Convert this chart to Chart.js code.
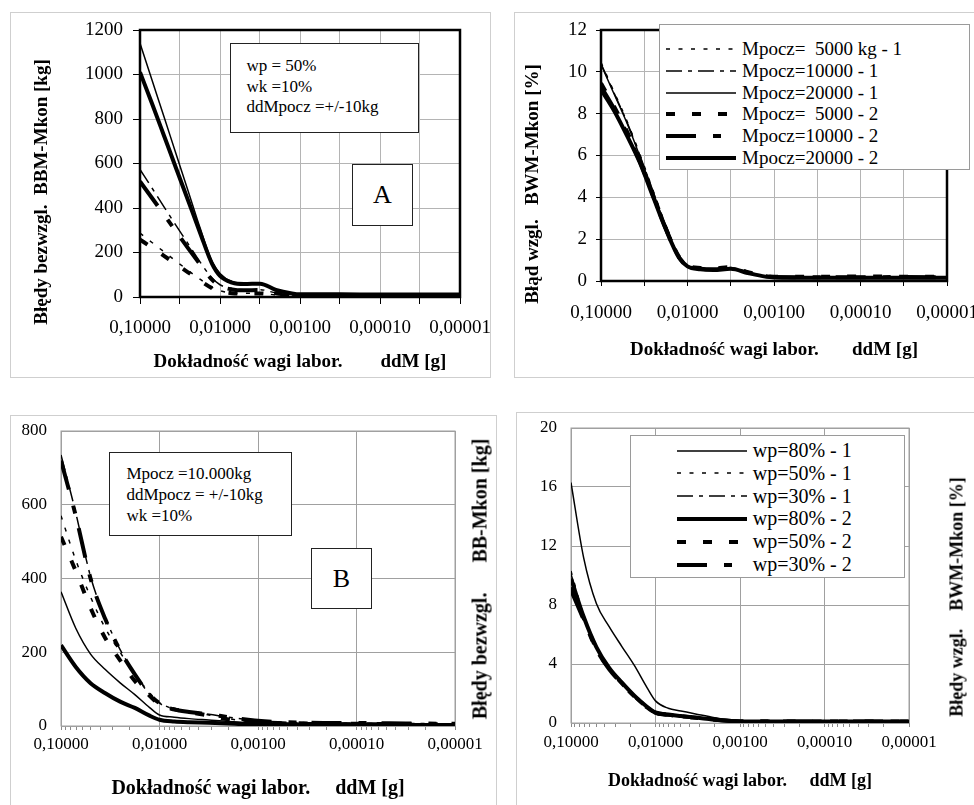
<!DOCTYPE html>
<html><head><meta charset="utf-8">
<script src="https://cdn.jsdelivr.net/npm/chart.js@4.4.1/dist/chart.umd.min.js"></script>
<style>
html,body{margin:0;padding:0;background:#fff;}
body{width:974px;height:805px;position:relative;overflow:hidden;font-family:"Liberation Serif","Times New Roman",serif;color:#000;}
.panel{position:absolute;box-sizing:border-box;border:1.5px solid #cfcfcf;}
canvas{position:absolute;}
.note{position:absolute;box-sizing:border-box;border:1.5px solid #222;background:#fff;white-space:pre;}
.note .ln{display:block;}
.big{display:flex;align-items:center;justify-content:center;font-size:26px;}
.legend{position:absolute;box-sizing:border-box;border:1px solid #9a9a9a;background:#fff;}
.legrow{position:absolute;display:flex;align-items:center;white-space:pre;height:24px;}
.rtitle{position:absolute;font-weight:bold;white-space:pre;transform:translate(-50%,-50%) rotate(-90deg);}
</style></head><body>
<div class="panel" style="left:10px;top:12px;width:481px;height:366px"></div>
<div class="panel" style="left:514px;top:12px;width:470px;height:366px"></div>
<div class="panel" style="left:10px;top:415px;width:487px;height:400px"></div>
<div class="panel" style="left:516px;top:412px;width:470px;height:400px"></div>
<canvas id="cA" width="500" height="380" style="left:0;top:0"></canvas>
<canvas id="cC" width="484" height="380" style="left:490px;top:0"></canvas>
<canvas id="cB" width="490" height="420" style="left:0;top:385px"></canvas>
<canvas id="cD" width="484" height="420" style="left:490px;top:385px"></canvas>

<div class="note" style="left:230px;top:43px;width:189px;height:90px;padding:12px 0 0 15.5px;font-size:17px;line-height:20.5px"><span class="ln">wp = 50%</span><span class="ln">wk =10%</span><span class="ln">ddMpocz =+/-10kg</span></div>
<div class="note big" style="left:352px;top:164px;width:61px;height:62px">A</div>
<div class="note" style="left:109px;top:452px;width:183px;height:84px;padding:10px 0 0 16.5px;font-size:17px;line-height:21px"><span class="ln">Mpocz =10.000kg</span><span class="ln">ddMpocz = +/-10kg</span><span class="ln">wk =10%</span></div>
<div class="note big" style="left:311px;top:548px;width:61px;height:61px">B</div>

<div id="legC" class="legend" style="left:659px;top:24px;width:311px;height:146px"></div>
<div id="legD" class="legend" style="left:630px;top:435px;width:275px;height:143px"></div>

<div class="rtitle" style="left:480px;top:579px;font-size:20px">Błędy bezwzgl.      BB-Mkon [kg]</div>
<div class="rtitle" style="left:957px;top:597px;font-size:18px">Błędy wzgl.    BWM-Mkon [%]</div>

<script>
// ---------- data ----------
const ddM = [0.1, 0.0708, 0.0501, 0.0355, 0.0251, 0.0178, 0.0126, 0.01, 0.00708, 0.00501, 0.00316, 0.002, 0.00126, 0.001, 0.000316, 0.0001, 0.0000316, 0.00001];

const xDecades = [0.1, 0.01, 0.001, 0.0001, 0.00001];
const xTickLabels = ['0,10000', '0,01000', '0,00100', '0,00010', '0,00001'];
const xTicksHalf = [0.1, 0.031623, 0.01, 0.0031623, 0.001, 0.00031623, 0.0001, 0.000031623, 0.00001];

const labelsAC = ['Mpocz=  5000 kg - 1', 'Mpocz=10000 - 1', 'Mpocz=20000 - 1', 'Mpocz=  5000 - 2', 'Mpocz=10000 - 2', 'Mpocz=20000 - 2'];
const labelsBD = ['wp=80% - 1', 'wp=50% - 1', 'wp=30% - 1', 'wp=80% - 2', 'wp=50% - 2', 'wp=30% - 2'];

// Panel A (kg)
const a5000_1  = [287, 245, 203, 161, 120, 80, 43, 28, 19, 17, 17, 9, 5, 4, 4, 3, 3, 3];
const a10000_1 = [573, 490, 405, 322, 240, 158, 85, 55, 37, 33, 33, 18, 9, 7, 6, 6, 6, 6];
const a20000_1 = [1140, 975, 810, 644, 478, 312, 160, 106, 69, 62, 62, 32, 16, 12, 12, 12, 12, 12];
const a5000_2  = [258, 222, 185, 148, 111, 74, 40, 26, 17, 15, 16, 9, 5, 4, 5, 4, 5, 4];
const a10000_2 = [519, 445, 370, 295, 220, 148, 78, 50, 34, 30, 31, 17, 9, 7, 8, 7, 8, 7];
const a20000_2 = [1010, 870, 725, 580, 435, 290, 150, 95, 65, 58, 60, 32, 16, 12, 12, 11, 11, 11];

// Panel C (%)
const c5000_1  = [10.45, 9.05, 7.65, 6.05, 4.35, 2.65, 1.25, 0.78, 0.62, 0.58, 0.64, 0.42, 0.24, 0.18, 0.14, 0.15, 0.14, 0.15];
const c10000_1 = [10.4, 9.0, 7.6, 6.0, 4.3, 2.6, 1.2, 0.75, 0.6, 0.56, 0.62, 0.4, 0.22, 0.17, 0.13, 0.13, 0.13, 0.13];
const c20000_1 = [10.35, 8.95, 7.55, 5.95, 4.25, 2.55, 1.18, 0.73, 0.58, 0.55, 0.6, 0.39, 0.21, 0.16, 0.12, 0.12, 0.12, 0.12];
const c5000_2  = [9.45, 8.35, 7.15, 5.75, 4.15, 2.52, 1.17, 0.74, 0.62, 0.6, 0.66, 0.42, 0.25, 0.2, 0.2, 0.22, 0.2, 0.2];
const c10000_2 = [9.3, 8.25, 7.05, 5.7, 4.1, 2.5, 1.15, 0.72, 0.59, 0.56, 0.62, 0.4, 0.23, 0.19, 0.18, 0.18, 0.19, 0.18];
const c20000_2 = [9.15, 8.15, 6.95, 5.65, 4.05, 2.47, 1.13, 0.7, 0.56, 0.53, 0.58, 0.38, 0.21, 0.17, 0.15, 0.15, 0.15, 0.15];

// Panel B (kg)
const b80_1 = [364, 265, 195, 153, 117, 85, 50, 30, 24, 20, 16, 12, 9, 8, 6, 5, 5, 4];
const b50_1 = [570, 450, 350, 265, 200, 140, 90, 62, 45, 38, 30, 20, 12, 10, 8, 7, 6, 5];
const b30_1 = [735, 578, 405, 293, 207, 142, 86, 63, 46, 39, 32, 24, 17, 14, 9, 8, 7, 6];
const b80_2 = [219, 160, 116, 89, 66, 49, 28, 17, 12, 10, 9, 7, 5, 5, 4, 4, 3, 3];
const b50_2 = [513, 420, 320, 238, 178, 122, 82, 58, 45, 38, 28, 18, 11, 9, 7, 6, 5, 5];
const b30_2 = [720, 570, 400, 290, 205, 140, 85, 62, 45, 38, 32, 24, 17, 14, 9, 8, 7, 6];

// Panel D (%)
const d80_1 = [16.3, 11.2, 8.1, 6.55, 5.2, 3.9, 2.4, 1.5, 1.0, 0.82, 0.58, 0.36, 0.2, 0.16, 0.13, 0.12, 0.12, 0.12];
const d50_1 = [10.3, 7.3, 5.2, 3.8, 2.8, 1.9, 1.15, 0.75, 0.6, 0.5, 0.37, 0.25, 0.14, 0.12, 0.11, 0.11, 0.11, 0.11];
const d30_1 = [10.1, 7.25, 5.15, 3.75, 2.75, 1.88, 1.12, 0.74, 0.59, 0.49, 0.36, 0.24, 0.13, 0.12, 0.11, 0.11, 0.1, 0.1];
const d80_2 = [9.8, 7.2, 5.15, 3.75, 2.75, 1.85, 1.1, 0.72, 0.57, 0.47, 0.35, 0.23, 0.13, 0.11, 0.1, 0.1, 0.1, 0.1];
const d50_2 = [9.2, 7.1, 5.05, 3.7, 2.7, 1.83, 1.08, 0.7, 0.56, 0.46, 0.35, 0.23, 0.13, 0.11, 0.1, 0.1, 0.1, 0.1];
const d30_2 = [9.0, 7.0, 5.0, 3.65, 2.68, 1.8, 1.06, 0.69, 0.55, 0.45, 0.34, 0.22, 0.13, 0.11, 0.1, 0.1, 0.1, 0.1];

// ---------- styles ----------
const DOT = [4, 8.5], DASHDOT = [16, 6, 4, 6], DASH = [9, 17], LONGDASH = [30, 17, 8, 15];
const stylesAC = [{dash: DOT, w: 1.5}, {dash: DASHDOT, w: 1.5}, {dash: [], w: 1.5}, {dash: DASH, w: 4}, {dash: LONGDASH, w: 4}, {dash: [], w: 4}];
const stylesBD = [{dash: [], w: 1.5}, {dash: DOT, w: 1.5}, {dash: DASHDOT, w: 1.5}, {dash: [], w: 4}, {dash: DASH, w: 4}, {dash: LONGDASH, w: 4}];

Chart.defaults.font.family = '"Liberation Serif", "Times New Roman", serif';
Chart.defaults.color = '#000';

const framePlugin = {
  id: 'frame',
  beforeDatasetsDraw(chart, args, opts) { if (!opts.over) draw(chart, opts); },
  afterDatasetsDraw(chart, args, opts) { if (opts.over) draw(chart, opts); }
};
function draw(chart, opts) {
  const {ctx, chartArea: a} = chart;
  ctx.save();
  ctx.strokeStyle = opts.color; ctx.lineWidth = opts.width;
  ctx.strokeRect(a.left, a.top, a.right - a.left, a.bottom - a.top);
  ctx.restore();
}

function datasets(labels, series, styles) {
  return series.map((s, i) => ({
    label: labels[i],
    data: ddM.map((x, j) => ({x: x, y: s[j]})),
    borderColor: '#000', backgroundColor: '#000',
    borderWidth: styles[i].w, borderDash: styles[i].dash,
    pointRadius: 0, fill: false, cubicInterpolationMode: 'monotone'
  }));
}
function decadeLabel(v) {
  const i = xDecades.indexOf(v);
  return i >= 0 ? xTickLabels[i] : '';
}
const minorTicks = [];
[0.00001, 0.0001, 0.001, 0.01].forEach(k => { for (let m = 1; m <= 9; m++) minorTicks.push(m === 1 ? k : m * k); });
minorTicks.push(0.1);
const isDecade = v => xDecades.indexOf(v) >= 0;

function makeChart(id, p) {
  const gridGray = p.gridColor;
  const xScale = {
    type: 'logarithmic', reverse: true, min: 0.00001, max: 0.1,
    afterBuildTicks: s => { s.ticks = (p.half ? xTicksHalf : minorTicks).map(v => ({value: v})); },
    afterFit: s => { s.height = p.xH; s.paddingLeft = 0; s.paddingRight = 0; },
    border: {display: false},
    grid: p.half
      ? {color: gridGray, lineWidth: 1, drawTicks: true, tickLength: p.xTick, tickColor: '#000'}
      : {color: c => isDecade(c.tick.value) ? gridGray : 'rgba(0,0,0,0)', lineWidth: 1, drawTicks: true, tickLength: p.xTick, tickColor: '#8a8a8a'},
    ticks: {autoSkip: false, maxRotation: 0, minRotation: 0, padding: p.xPad, font: {size: p.tickFont}, color: '#000', callback: v => decadeLabel(v)},
    title: {display: true, text: p.xTitle, color: '#000', font: {size: p.xTitleFont, weight: 'bold'}, padding: {top: 0, bottom: p.xTitlePad}}
  };
  const yScale = {
    min: 0, max: p.yMax,
    afterFit: s => { s.width = p.yW; s.paddingTop = 0; s.paddingBottom = 0; },
    border: {display: false},
    grid: {color: gridGray, lineWidth: 1, drawTicks: p.yTick > 0, tickLength: p.yTick, tickColor: '#000'},
    ticks: {stepSize: p.yStep, padding: p.yPad, font: {size: p.tickFont}, color: '#000', callback: v => String(v)},
    title: p.yTitle ? {display: true, text: p.yTitle, color: '#000', font: {size: p.yTitleFont, weight: 'bold'}, padding: {top: p.yTitlePad, bottom: 0}} : {display: false}
  };
  return new Chart(document.getElementById(id), {
    type: 'line',
    data: {datasets: p.datasets},
    options: {
      responsive: false, animation: false, devicePixelRatio: 1,
      layout: {autoPadding: false, padding: p.padding},
      plugins: {legend: {display: false}, tooltip: {enabled: false}, frame: p.frame},
      scales: {x: xScale, y: yScale}
    },
    plugins: [framePlugin]
  });
}

const chartA = makeChart('cA', {
  datasets: datasets(labelsAC, [a5000_1, a10000_1, a20000_1, a5000_2, a10000_2, a20000_2], stylesAC),
  half: true, gridColor: '#b4b4b4', padding: {left: 0, top: 30, right: 40, bottom: 0},
  xH: 83, xTick: 7, xPad: 13, tickFont: 19,
  xTitle: 'Dokładność wagi labor.        ddM [g]', xTitleFont: 19, xTitlePad: 7,
  yMax: 1200, yStep: 200, yW: 140, yTick: 7, yPad: 10,
  yTitle: 'Błędy bezwzgl.  BBM-Mkon [kg]            ', yTitleFont: 19, yTitlePad: 30.6,
  frame: {color: '#000', width: 2.5, over: true}
});
const chartC = makeChart('cC', {
  datasets: datasets(labelsAC, [c5000_1, c10000_1, c20000_1, c5000_2, c10000_2, c20000_2], stylesAC),
  half: true, gridColor: '#b4b4b4', padding: {left: 0, top: 30, right: 27, bottom: 0},
  xH: 99, xTick: 5, xPad: 16, tickFont: 19,
  xTitle: 'Dokładność wagi labor.       ddM [g]', xTitleFont: 19, xTitlePad: 18.6,
  yMax: 12, yStep: 2, yW: 111, yTick: 5, yPad: 9,
  yTitle: 'Błąd wzgl.   BWM-Mkon [%]            ', yTitleFont: 19, yTitlePad: 31.6,
  frame: {color: '#000', width: 2.5, over: true}
});
const chartB = makeChart('cB', {
  datasets: datasets(labelsBD, [b80_1, b50_1, b30_1, b80_2, b50_2, b30_2], stylesBD),
  half: false, gridColor: '#a0a0a0', padding: {left: 0, top: 46, right: 35, bottom: 0},
  xH: 79, xTick: 4, xPad: 4, tickFont: 17,
  xTitle: 'Dokładność wagi labor.     ddM [g]', xTitleFont: 20, xTitlePad: 4,
  yMax: 800, yStep: 200, yW: 61, yTick: 0, yPad: 14,
  yTitle: null,
  frame: {color: '#a0a0a0', width: 1, over: false}
});
const chartD = makeChart('cD', {
  datasets: datasets(labelsBD, [d80_1, d50_1, d30_1, d80_2, d50_2, d30_2], stylesBD),
  half: false, gridColor: '#a0a0a0', padding: {left: 0, top: 43, right: 65, bottom: 0},
  xH: 82, xTick: 4, xPad: 5, tickFont: 17,
  xTitle: 'Dokładność wagi labor.     ddM [g]', xTitleFont: 18, xTitlePad: 12.5,
  yMax: 20, yStep: 4, yW: 81, yTick: 0, yPad: 14,
  yTitle: null,
  frame: {color: '#a0a0a0', width: 1, over: false}
});

function buildLegend(chart, elId, cfg) {
  const box = document.getElementById(elId);
  const items = Chart.defaults.plugins.legend.labels.generateLabels(chart);
  const svgNS = 'http://www.w3.org/2000/svg';
  items.forEach((it, i) => {
    const row = document.createElement('div');
    row.className = 'legrow';
    row.style.left = cfg.sampleLeft + 'px';
    row.style.top = (cfg.firstCenter + i * cfg.spacing - 12) + 'px';
    row.style.fontSize = cfg.fontSize + 'px';
    const svg = document.createElementNS(svgNS, 'svg');
    svg.setAttribute('width', cfg.sampleWidth); svg.setAttribute('height', 10);
    const ln = document.createElementNS(svgNS, 'line');
    ln.setAttribute('x1', 0); ln.setAttribute('x2', cfg.sampleWidth);
    ln.setAttribute('y1', 5); ln.setAttribute('y2', 5);
    ln.setAttribute('stroke', it.strokeStyle || '#000');
    ln.setAttribute('stroke-width', it.lineWidth);
    if (it.lineDash && it.lineDash.length) ln.setAttribute('stroke-dasharray', it.lineDash.join(' '));
    svg.appendChild(ln);
    const span = document.createElement('span');
    span.textContent = it.text;
    span.style.marginLeft = cfg.gap + 'px';
    row.appendChild(svg); row.appendChild(span);
    box.appendChild(row);
  });
}
buildLegend(chartC, 'legC', {sampleLeft: 6, sampleWidth: 70, gap: 6, firstCenter: 24, spacing: 21.8, fontSize: 19});
buildLegend(chartD, 'legD', {sampleLeft: 45.7, sampleWidth: 70, gap: 6, firstCenter: 14.5, spacing: 22.8, fontSize: 20});
</script>
</body></html>
